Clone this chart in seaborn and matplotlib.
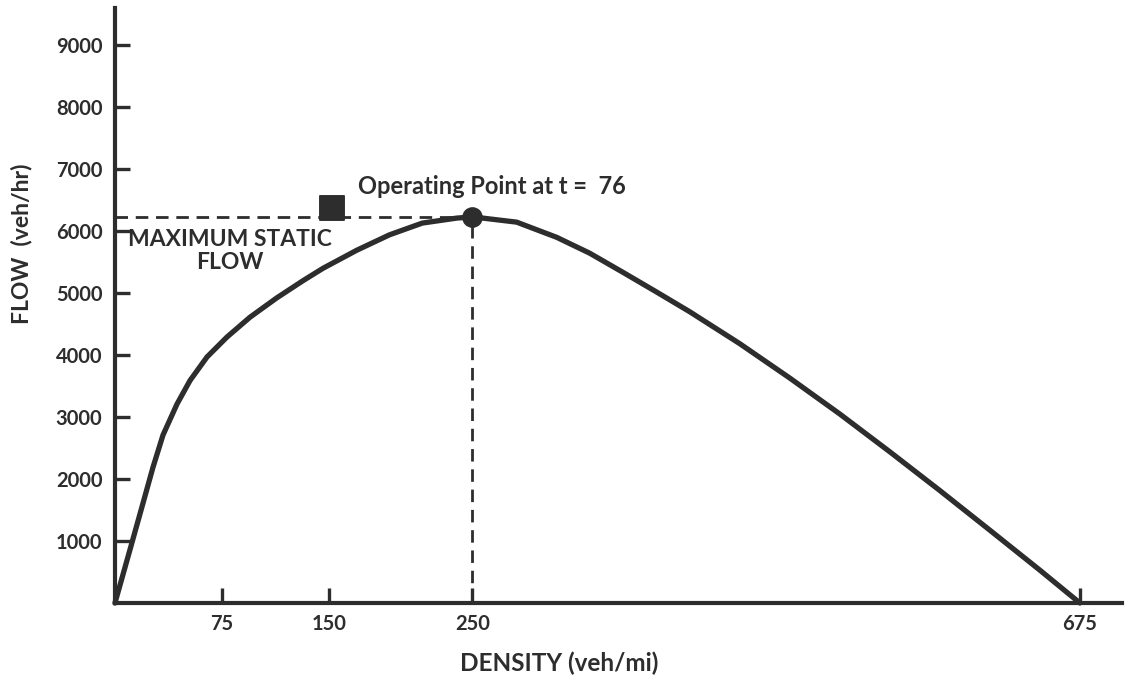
import matplotlib
matplotlib.use("Agg")
import matplotlib.pyplot as plt
import seaborn as sns
import pandas as pd

# Flow-density relation (veh/mi vs veh/hr)
density = [0, 10.5, 19.6, 26.6, 33.6, 43.4, 52.5, 64.4, 78.3, 94.4, 113, 131.5,
           145.5, 169, 192, 215, 239, 250, 281, 309, 332, 355, 379, 402, 437,
           472, 507, 542, 577, 612, 647, 675]
flow = [0, 860, 1610, 2190, 2710, 3210, 3590, 3970, 4290, 4610, 4920, 5200,
        5400, 5690, 5940, 6130, 6210, 6230, 6145, 5900, 5645, 5340, 5016, 4700,
        4185, 3630, 3050, 2440, 1815, 1175, 530, 0]

# Operating point on the curve and the marked static point
operating_density = 250
max_static_flow = 6230
square_density = 152
square_flow = 6380

x_ticks = [75, 150, 250, 675]
x_tick_labels = ["75", "150", "250", "675"]
y_ticks = [1000, 2000, 3000, 4000, 5000, 6000, 7000, 8000, 9000]
y_tick_labels = [str(v) for v in y_ticks]

ink = "#2d2d2d"

sns.set_theme(style="white")
plt.rcParams["font.family"] = ["Lato", "DejaVu Sans"]

fig = plt.figure(figsize=(11.26, 6.83), dpi=100)
ax = fig.add_axes([0.1021, 0.1171, 0.8943, 0.8712])

df = pd.DataFrame({"density": density, "flow": flow})
sns.lineplot(data=df, x="density", y="flow", sort=False, estimator=None,
             color=ink, linewidth=3.8, ax=ax, clip_on=False, zorder=3,
             solid_joinstyle="round", solid_capstyle="round")

# Dashed guide lines to the operating point
dash = (0, (4.5, 2.8))
ax.plot([0, operating_density], [max_static_flow, max_static_flow],
        color=ink, linewidth=2.0, linestyle=dash, zorder=2)
ax.plot([operating_density, operating_density], [0, max_static_flow],
        color=ink, linewidth=2.0, linestyle=dash, zorder=2)

pts = pd.DataFrame({"d": [operating_density], "f": [max_static_flow]})
sns.scatterplot(data=pts, x="d", y="f", marker="o", s=190, color=ink,
                edgecolor=ink, ax=ax, zorder=4, clip_on=False)
sq = pd.DataFrame({"d": [square_density], "f": [square_flow]})
sns.scatterplot(data=sq, x="d", y="f", marker="s", s=300, color=ink,
                edgecolor=ink, ax=ax, zorder=4)

ax.set_xlim(0, 704.4)
ax.set_ylim(0, 9600)

ax.set_xticks(x_ticks)
ax.set_xticklabels(x_tick_labels)
ax.set_yticks(y_ticks)
ax.set_yticklabels(y_tick_labels)

for side in ["top", "right"]:
    ax.spines[side].set_visible(False)
for side in ["left", "bottom"]:
    ax.spines[side].set_color(ink)
    ax.spines[side].set_linewidth(3.0)

ax.tick_params(axis="both", direction="in", length=11, width=2.4, color=ink,
               labelsize=14.5, labelcolor=ink)
ax.tick_params(axis="y", pad=9)
ax.tick_params(axis="x", pad=8)
for lbl in ax.get_xticklabels() + ax.get_yticklabels():
    lbl.set_fontweight("bold")
ax.yaxis.set_ticks_position("left")
ax.xaxis.set_ticks_position("bottom")
ax.grid(False)

ax.set_xlabel("")
ax.set_ylabel("")
fig.text(559 / 1126, 1 - 663 / 683, "DENSITY (veh/mi)", ha="center", va="center",
         fontsize=17.5, fontweight="bold", color=ink)
fig.text(22 / 1126, 1 - 244 / 683, "FLOW  (veh/hr)", ha="center", va="center",
         rotation=90, fontsize=16.5, fontweight="bold", color=ink)

ax.text(358 / 1126, 1 - 186 / 683, "Operating Point at t =  76", transform=fig.transFigure,
        ha="left", va="center", fontsize=17, fontweight="bold", color=ink)
ax.text(230 / 1126, 1 - 251 / 683, "MAXIMUM STATIC\nFLOW", transform=fig.transFigure,
        ha="center", va="center", fontsize=16.5, fontweight="bold", color=ink,
        linespacing=1.15)

fig.savefig("out.png", dpi=100, facecolor="white")
